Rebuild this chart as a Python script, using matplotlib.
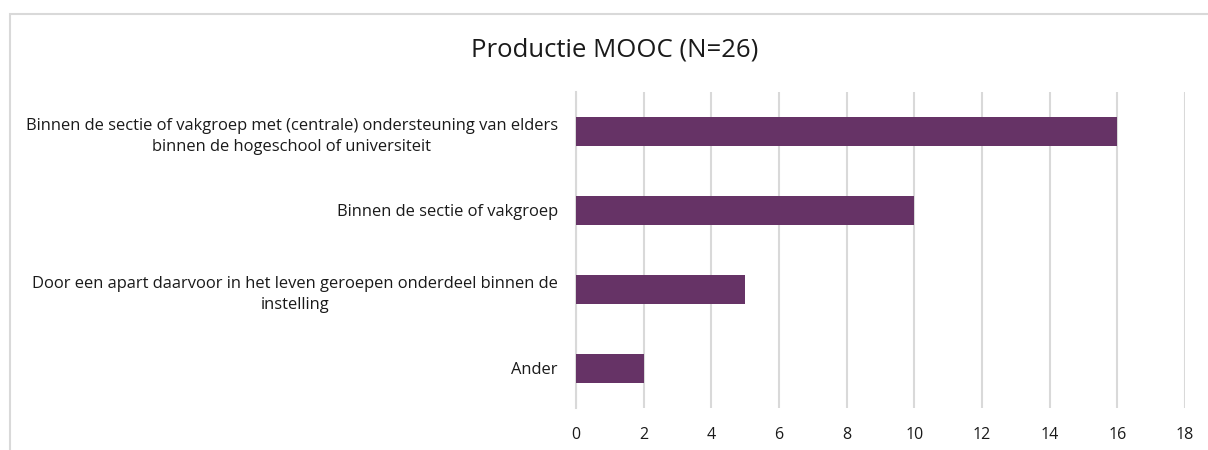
import matplotlib.pyplot as plt
from matplotlib.patches import Rectangle

categories = [
    "Binnen de sectie of vakgroep met (centrale) ondersteuning van elders\nbinnen de hogeschool of universiteit",
    "Binnen de sectie of vakgroep",
    "Door een apart daarvoor in het leven geroepen onderdeel binnen de\ninstelling",
    "Ander",
]
values = [16, 10, 5, 2]
xticks = [0, 2, 4, 6, 8, 10, 12, 14, 16, 18]
title = "Productie MOOC (N=26)"

plt.rcParams['font.family'] = ['Open Sans', 'DejaVu Sans']

fig = plt.figure(figsize=(12.08, 4.5), dpi=100)
W, H = 1208, 450
ax = fig.add_axes([576 / W, 1 - 408 / H, (1185 - 576) / W, (408 - 92) / H])

ypos = list(range(len(categories)))
ax.barh(ypos, values, height=0.355, color='#663366', zorder=3)
ax.set_ylim(len(categories) - 0.5, -0.5)
ax.set_xlim(0, 18)
ax.set_xticks(xticks)
ax.set_xticklabels([str(t) for t in xticks], fontsize=11.5, color='#1a1a1a')
ax.set_yticks(ypos)
ax.set_yticklabels(categories, fontsize=11.9, color='#1a1a1a', multialignment='center',
                   linespacing=1.45)
ax.tick_params(axis='both', length=0)
ax.tick_params(axis='x', pad=14)
ax.tick_params(axis='y', pad=13)
ax.grid(axis='x', color='#d9d9d9', linewidth=1.5, zorder=0)
for s in ['top', 'right', 'bottom']:
    ax.spines[s].set_visible(False)
ax.spines['left'].set_color('#d9d9d9')
ax.spines['left'].set_linewidth(1.5)

fig.text(615 / W, 1 - 50 / H, title, fontsize=18.5, ha='center', va='center', color='#1a1a1a')

fig.patches.append(Rectangle((10 / W, -0.1), 1.2, 1 - 14 / H + 0.1, transform=fig.transFigure,
                             fill=False, edgecolor='#d9d9d9', linewidth=1.5))

fig.savefig('out.png', dpi=100)
